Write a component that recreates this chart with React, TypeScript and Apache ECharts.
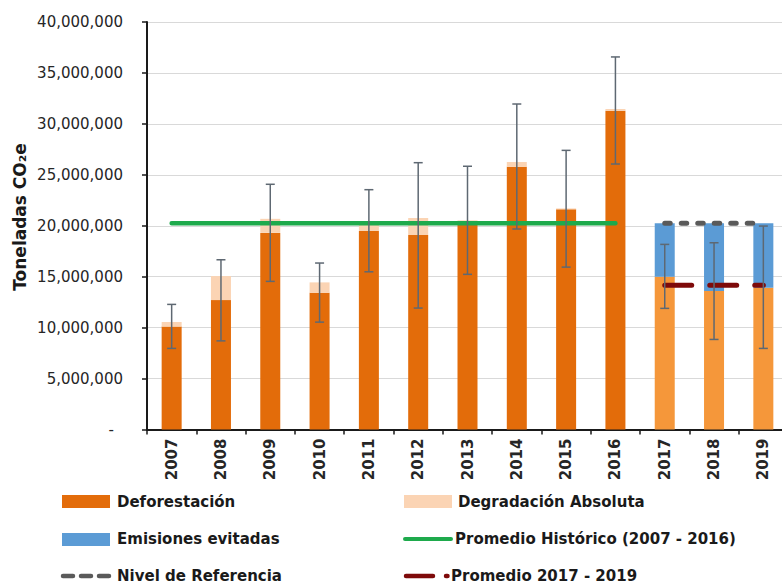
import React, { useEffect, useRef } from "react";
import * as echarts from "echarts";

const years = ["2007", "2008", "2009", "2010", "2011", "2012", "2013", "2014", "2015", "2016", "2017", "2018", "2019"];
const deforestacion = [10100000, 12700000, 19300000, 13420000, 19510000, 19090000, 20100000, 25800000, 21610000, 31300000, 15000000, 13590000, 13910000];
const degradacion = [450000, 2360000, 1380000, 1020000, 730000, 1670000, 430000, 460000, 90000, 160000, null, null, null];
const emisionesEvitadas = [null, null, null, null, null, null, null, null, null, null, 5240000, 6650000, 6330000];
const errLow = [7960000, 8700000, 14540000, 10540000, 15480000, 11920000, 15230000, 19680000, 15940000, 26060000, 11890000, 8840000, 7960000];
const errHigh = [12280000, 16660000, 24070000, 16340000, 23540000, 26190000, 25840000, 31950000, 27400000, 36570000, 18170000, 18330000, 19970000];
const promedioHistorico = [20240000, 20240000, 20240000, 20240000, 20240000, 20240000, 20240000, 20240000, 20240000, 20240000, null, null, null];
const nivelReferencia = [null, null, null, null, null, null, null, null, null, null, 20240000, 20240000, 20240000];
const promedio20172019 = [null, null, null, null, null, null, null, null, null, null, 14170000, 14170000, 14170000];
const legendLabels = ["Deforestación", "Degradación Absoluta", "Emisiones evitadas", "Promedio Histórico (2007 - 2016)", "Nivel de Referencia", "Promedio 2017 - 2019"];

const C_DEF = "#E36C0A";
const C_DEF2 = "#F5973A";
const C_DEG = "#FBD4B4";
const C_BLUE = "#5B9BD5";
const C_GREEN = "#1EAA4C";
const C_GRAY = "#5A5A5A";
const C_RED = "#7E0A0A";
const C_ERR = "#5E6872";
const FONT = "DejaVu Sans";

export default function App() {
  const ref = useRef<HTMLDivElement>(null);
  useEffect(() => {
    if (!ref.current) return;
    const chart = echarts.init(ref.current, undefined, { renderer: "svg" });
    const legendText = (x: number, y: number, t: string) => ({
      type: "text",
      x,
      y,
      style: { text: t, fill: "#1a1a1a", font: `bold 15px "${FONT}"`, textAlign: "left", textVerticalAlign: "middle" },
    });
    const option: any = {
      animation: false,
      backgroundColor: "#ffffff",
      grid: { left: 147, top: 22, width: 641, height: 407.5, containLabel: false, outerBoundsMode: "none" },
      xAxis: {
        type: "category",
        data: years,
        axisLine: { show: true, lineStyle: { color: "#1a1a1a", width: 2 } },
        axisTick: { show: true, length: 5, lineStyle: { color: "#1a1a1a", width: 1.5 } },
        axisLabel: { rotate: 90, margin: 9, fontFamily: FONT, fontWeight: "bold", fontSize: 15, color: "#262626" },
      },
      yAxis: {
        type: "value",
        min: 0,
        max: 40000000,
        interval: 5000000,
        axisLine: { show: true, lineStyle: { color: "#1a1a1a", width: 2 } },
        axisTick: { show: true, length: 5, lineStyle: { color: "#1a1a1a", width: 1.5 } },
        splitLine: { show: true, lineStyle: { color: "#D9D9D9", width: 1 } },
        axisLabel: {
          margin: 24,
          fontFamily: FONT,
          fontSize: 15,
          color: "#262626",
          formatter: (v: number) => (v === 0 ? "{d|-}" : v.toLocaleString("en-US")),
          rich: { d: { padding: [0, 9, 0, 0], fontFamily: FONT, fontSize: 15, color: "#262626" } },
        },
      },
      series: [
        {
          name: legendLabels[0],
          type: "bar",
          stack: "t",
          barWidth: 20,
          data: deforestacion.map((v, i) => ({ value: v, itemStyle: { color: i >= 10 ? C_DEF2 : C_DEF } })),
          itemStyle: { color: C_DEF },
        },
        { name: legendLabels[1], type: "bar", stack: "t", barWidth: 20, data: degradacion, itemStyle: { color: C_DEG } },
        { name: legendLabels[2], type: "bar", stack: "t", barWidth: 20, data: emisionesEvitadas, itemStyle: { color: C_BLUE } },
        {
          name: legendLabels[3],
          type: "line",
          data: promedioHistorico,
          symbol: "none",
          z: 4,
          lineStyle: { color: C_GREEN, width: 4.5, cap: "round" },
        },
        {
          name: legendLabels[4],
          type: "line",
          data: nivelReferencia,
          symbol: "none",
          z: 4,
          lineStyle: { color: C_GRAY, width: 5, type: [5.5, 11], cap: "round" },
        },
        {
          name: legendLabels[5],
          type: "line",
          data: promedio20172019,
          symbol: "none",
          z: 4,
          lineStyle: { color: C_RED, width: 5, type: [27, 18], cap: "round" },
        },
        {
          name: "error",
          type: "custom",
          z: 6,
          data: years.map((_, i) => [i, errLow[i], errHigh[i]]),
          encode: { x: 0, y: [1, 2] },
          renderItem: (params: any, api: any) => {
            const idx = api.value(0);
            const lo = api.coord([idx, api.value(1)]);
            const hi = api.coord([idx, api.value(2)]);
            const cw = 4.5;
            const st = { stroke: C_ERR, lineWidth: 1.5 };
            return {
              type: "group",
              children: [
                { type: "line", shape: { x1: lo[0], y1: lo[1], x2: hi[0], y2: hi[1] }, style: st },
                { type: "line", shape: { x1: lo[0] - cw, y1: lo[1], x2: lo[0] + cw, y2: lo[1] }, style: st },
                { type: "line", shape: { x1: hi[0] - cw, y1: hi[1], x2: hi[0] + cw, y2: hi[1] }, style: st },
              ],
            };
          },
        },
      ],
      graphic: [
        {
          type: "text",
          x: 20,
          y: 217,
          rotation: Math.PI / 2,
          style: { text: "Toneladas CO₂e", fill: "#1a1a1a", font: `bold 17px "${FONT}"`, textAlign: "center", textVerticalAlign: "middle" },
        },
        { type: "rect", shape: { x: 62, y: 495, width: 48, height: 13 }, style: { fill: C_DEF } },
        legendText(117, 502, legendLabels[0]),
        { type: "rect", shape: { x: 404, y: 495, width: 48, height: 13 }, style: { fill: C_DEG } },
        legendText(458, 502, legendLabels[1]),
        { type: "rect", shape: { x: 62, y: 533, width: 48, height: 13 }, style: { fill: C_BLUE } },
        legendText(117, 539, legendLabels[2]),
        { type: "line", shape: { x1: 405, y1: 539, x2: 451, y2: 539 }, style: { stroke: C_GREEN, lineWidth: 4, lineCap: "round" } },
        legendText(455, 539, legendLabels[3]),
        { type: "line", shape: { x1: 63, y1: 576, x2: 109, y2: 576 }, style: { stroke: C_GRAY, lineWidth: 4.5, lineDash: [10, 8], lineCap: "round" } },
        legendText(117, 576, legendLabels[4]),
        { type: "line", shape: { x1: 406, y1: 576, x2: 447.5, y2: 576 }, style: { stroke: C_RED, lineWidth: 4.5, lineDash: [27, 13], lineCap: "round" } },
        legendText(451, 576, legendLabels[5]),
      ],
    };
    chart.setOption(option);
    return () => chart.dispose();
  }, []);
  return <div ref={ref} style={{ position: "absolute", left: 0, top: 0, width: 782, height: 584 }} />;
}
